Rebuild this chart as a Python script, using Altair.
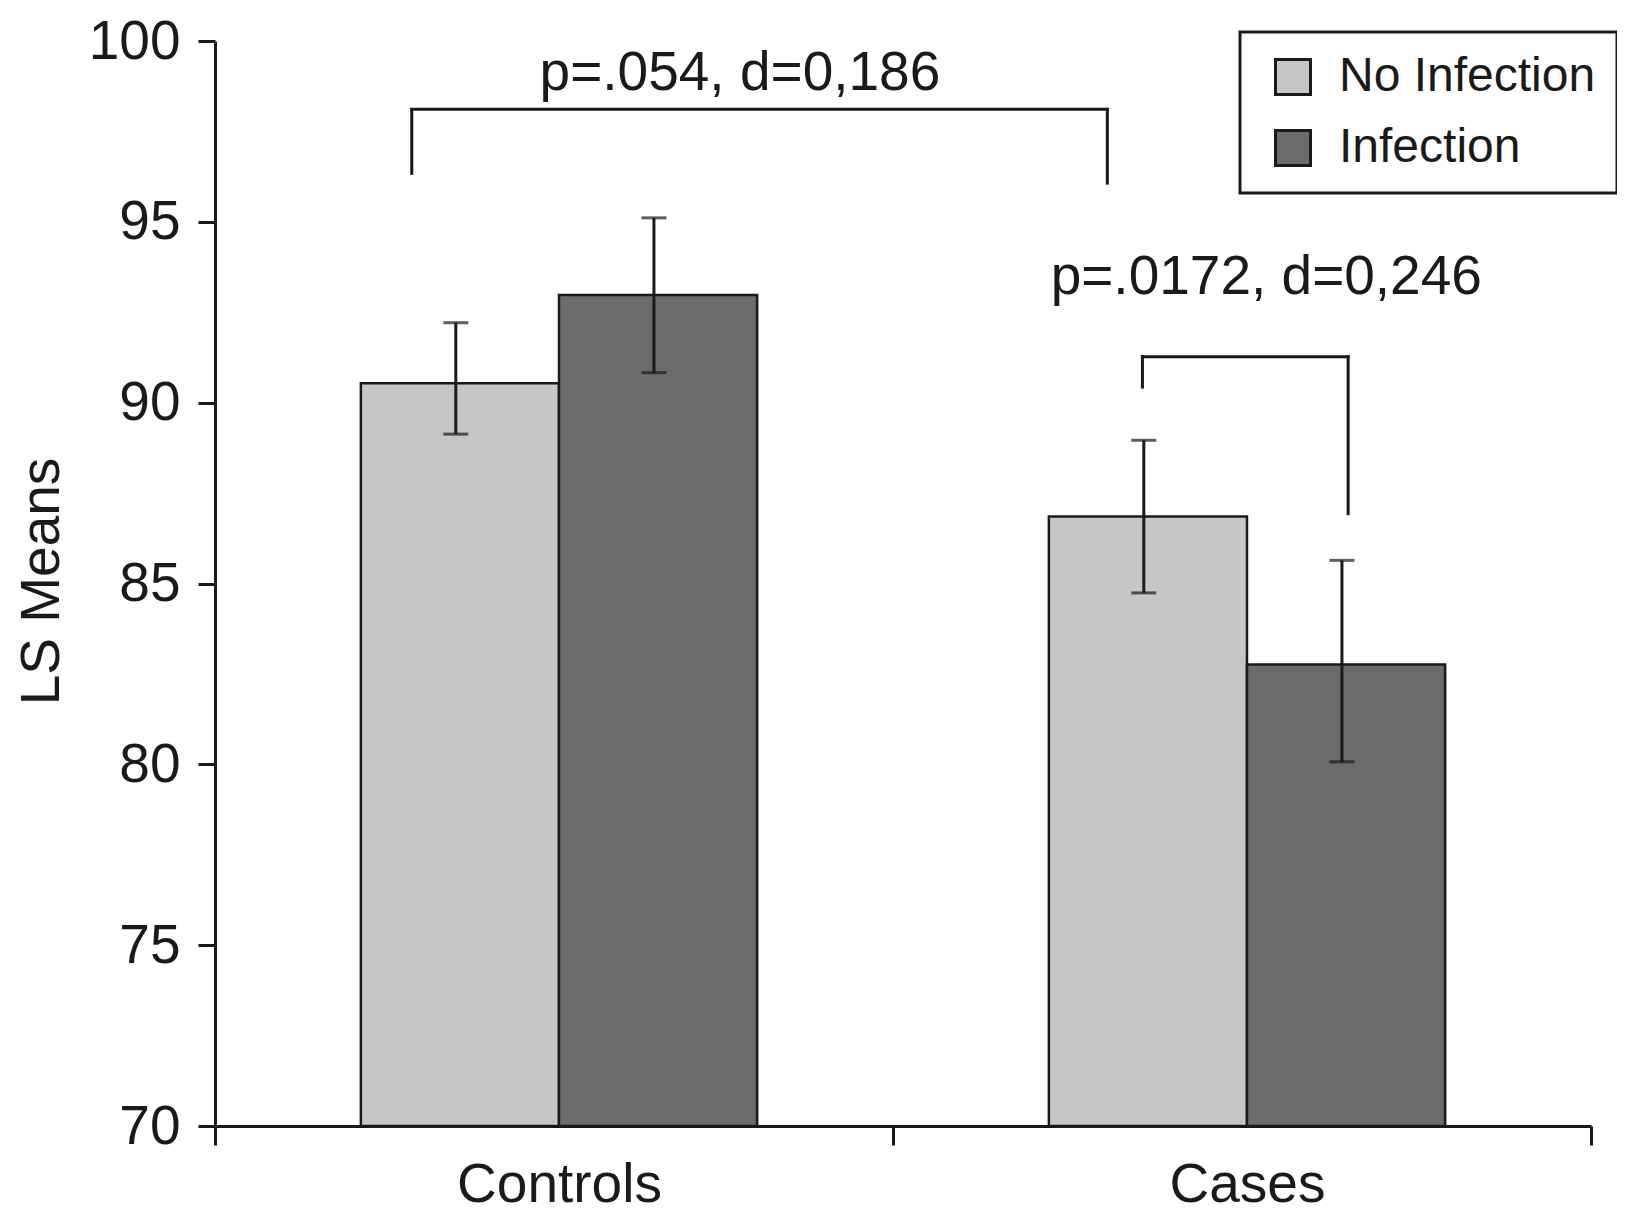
import altair as alt
import pandas as pd

FONT = "Liberation Sans"
INK = "#1a1a1a"

# categories and series
groups = ["Controls", "Cases"]
series = ["No Infection", "Infection"]
series_colors = ["#c6c6c6", "#6b6b6b"]

# LS means and error bar ends, one value per group
mean_no_inf = [90.54, 86.85]
mean_inf = [92.98, 82.76]
hi_no_inf = [92.21, 88.96]
lo_no_inf = [89.13, 84.74]
hi_inf = [95.11, 85.64]
lo_inf = [90.83, 80.07]

# significance brackets (x in group units, y in LS-mean units)
bracket_left = [0.286, 1.348]
bracket_right = [1.297, 1.647]
bracket_top = [98.11, 91.27]
bracket_left_end = [96.34, 90.43]
bracket_right_end = [96.07, 86.93]
bracket_labels = ["p=.054, d=0,186", "p=.0172, d=0,246"]
label_x = [0.763, 1.528]
label_y = [98.65, 93.01]

y_ticks = [70, 75, 80, 85, 90, 95, 100]
x_ticks = [0, 0.985, 2]  # group boundaries as drawn in the original

# build tables
BAR_W = 0.288
rows = []
for i, g in enumerate(groups):
    center = i + 0.5
    per_series = [
        (series[0], mean_no_inf[i], lo_no_inf[i], hi_no_inf[i]),
        (series[1], mean_inf[i], lo_inf[i], hi_inf[i]),
    ]
    for j, (s, m, lo, hi) in enumerate(per_series):
        x0 = center - BAR_W + j * BAR_W
        rows.append({"group": g, "series": s, "x0": x0, "x1": x0 + BAR_W,
                     "xm": x0 + BAR_W / 2 - 0.006, "mean": m, "lo": lo, "hi": hi})
bars_df = pd.DataFrame(rows)

segs = []
for k in range(len(bracket_labels)):
    segs.append({"x": bracket_left[k], "x2": bracket_right[k], "y": bracket_top[k], "y2": bracket_top[k]})
    segs.append({"x": bracket_left[k], "x2": bracket_left[k], "y": bracket_top[k], "y2": bracket_left_end[k]})
    segs.append({"x": bracket_right[k], "x2": bracket_right[k], "y": bracket_top[k], "y2": bracket_right_end[k]})
seg_df = pd.DataFrame(segs)
notes_df = pd.DataFrame({"label": bracket_labels, "x": label_x, "y": label_y})

centers = [i + 0.5 for i in range(len(groups))]
label_expr = " : ".join(
    f"datum.value == {c} ? '{g}'" for c, g in zip(centers, groups)
) + " : ''"
tick_test = " && ".join(f"datum.value != {c}" for c in centers)

x_scale = alt.Scale(domain=[0, len(groups)], nice=False, zero=False)
y_scale = alt.Scale(domain=[70, 100], nice=False, zero=False)

x_axis = alt.Axis(
    values=sorted(x_ticks + centers),
    labelExpr=label_expr,
    tickOpacity={"condition": {"test": tick_test, "value": 1}, "value": 0},
    tickSize=19, tickWidth=3, domainWidth=3,
    labelFontSize=55, labelPadding=13, labelOverlap=False, labelFlush=False,
    labelLimit=0, labelBound=False, grid=False,
)
y_axis = alt.Axis(
    values=y_ticks, tickSize=17, tickWidth=3, domainWidth=3,
    labelFontSize=55, labelPadding=18, labelFlush=False, labelLimit=0,
    grid=False,
    titleFontSize=55, titleFontWeight="normal",
    titleX=-157, titleY=540, titleBaseline="alphabetic", titleAlign="center",
)


def X(field):
    return alt.X(field, type="quantitative", scale=x_scale, axis=x_axis, title=None)


def Y(field):
    return alt.Y(field, type="quantitative", scale=y_scale, axis=y_axis, title="LS Means")


bars = alt.Chart(bars_df).mark_bar(stroke=INK, strokeWidth=2.5).encode(
    x=X("x0"),
    x2="x1",
    y=Y("mean"),
    y2=alt.datum(70),
    color=alt.Color(
        "series:N",
        scale=alt.Scale(domain=series, range=series_colors),
        legend=alt.Legend(
            title=None, orient="none", legendX=1025, legendY=-9,
            symbolType="square", symbolSize=1225, symbolStrokeColor=INK,
            symbolStrokeWidth=3, symbolOffset=8,
            labelFontSize=48, labelOffset=22, labelColor=INK, labelLimit=0,
            padding=21, rowPadding=23,
            strokeColor=INK, fillColor="white",
        ),
    ),
)

stems = alt.Chart(bars_df).mark_rule(color=INK, strokeWidth=3).encode(
    x=X("xm"), y=Y("lo"), y2="hi"
)
caps_hi = alt.Chart(bars_df).mark_tick(orient="horizontal", size=25, thickness=3, color=INK).encode(
    x=X("xm"), y=Y("hi")
)
caps_lo = alt.Chart(bars_df).mark_tick(orient="horizontal", size=25, thickness=3, color=INK).encode(
    x=X("xm"), y=Y("lo")
)

brackets = alt.Chart(seg_df).mark_rule(color=INK, strokeWidth=3, strokeCap="square").encode(
    x=X("x"), x2="x2", y=Y("y"), y2="y2"
)

notes = alt.Chart(notes_df).mark_text(
    fontSize=55, align="center", baseline="alphabetic", color=INK
).encode(x=X("x"), y=Y("y"), text="label:N")

chart = (
    alt.layer(bars, stems, caps_hi, caps_lo, brackets, notes)
    .properties(
        width=1376, height=1085, autosize="none",
        padding={"left": 207, "top": 33, "right": 26, "bottom": 88},
    )
    .configure(font=FONT)
    .configure_view(stroke=None)
    .configure_axis(domainColor=INK, tickColor=INK, labelColor=INK, titleColor=INK)
    .configure_legend(strokeWidth=3)
)

chart.save("out.html", embed_options={"renderer": "svg", "actions": False})
